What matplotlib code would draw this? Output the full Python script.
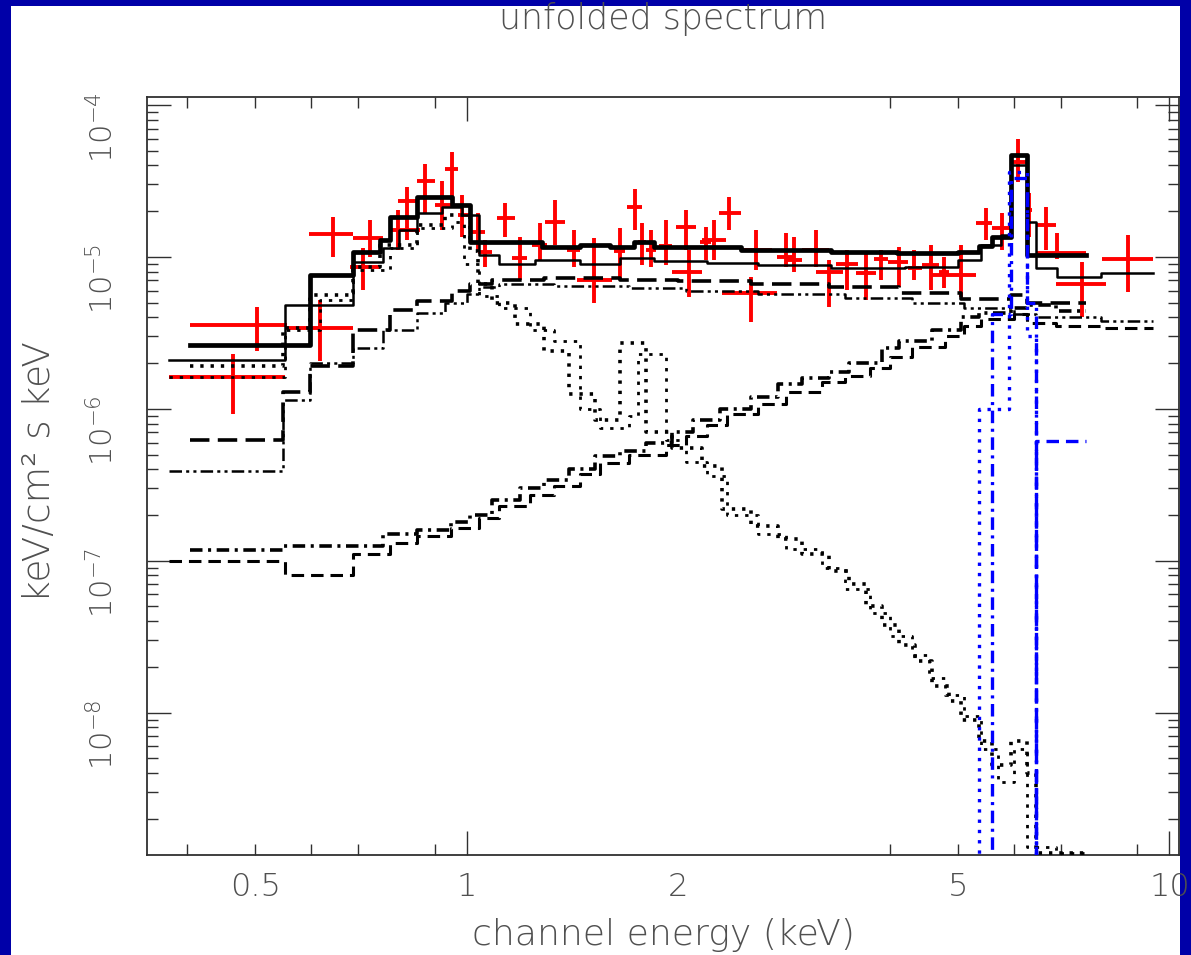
import numpy as np
import matplotlib
matplotlib.use("Agg")
import matplotlib.pyplot as plt
from matplotlib.patches import Rectangle
from matplotlib.ticker import FixedLocator, FixedFormatter, NullFormatter, LogLocator, FuncFormatter

plt.rcParams['lines.scale_dashes'] = False
plt.rcParams['font.family'] = ['DejaVu Sans']
plt.rcParams['font.weight'] = 'ultralight'
plt.rcParams['mathtext.fontset'] = 'dejavusans'

U = 1e-6  # all fluxes below in units of 1e-6 keV/cm^2 s keV

# ---- data (red crosses): energy bin in keV, flux with error range ----
r_e = [0.465, 0.503, 0.618, 0.645, 0.728, 0.712, 0.798, 0.822, 0.872, 0.922, 0.952, 0.984, 1.037, 1.061,
       1.132, 1.189, 1.27, 1.334, 1.42, 1.519, 1.65, 1.733, 1.778, 1.828, 1.923, 2.053, 2.073, 2.193,
       2.251, 2.364, 2.54, 2.582, 2.848, 2.924, 3.143, 3.279, 3.477, 3.70, 3.886, 4.12, 4.328, 4.576,
       4.775, 5.048, 5.48, 5.774, 6.083, 6.31, 6.666, 6.91, 7.499, 8.745]
r_elo = [0.377, 0.404, 0.555, 0.596, 0.689, 0.682, 0.777, 0.798, 0.849, 0.901, 0.931, 0.971, 1.010, 1.037,
         1.103, 1.16, 1.24, 1.291, 1.39, 1.433, 1.62, 1.688, 1.75, 1.80, 1.88, 1.988, 1.962, 2.15,
         2.164, 2.287, 2.311, 2.458, 2.76, 2.85, 3.0, 3.14, 3.35, 3.58, 3.80, 3.98, 4.25, 4.45,
         4.70, 4.59, 5.30, 5.59, 5.95, 6.265, 6.452, 6.45, 6.888, 8.007]
r_ehi = [0.551, 0.555, 0.689, 0.689, 0.760, 0.752, 0.858, 0.849, 0.901, 0.952, 0.971, 1.010, 1.061, 1.085,
         1.170, 1.22, 1.30, 1.378, 1.45, 1.607, 1.68, 1.778, 1.80, 1.86, 1.96, 2.122, 2.164, 2.23,
         2.341, 2.458, 2.765, 2.721, 2.93, 3.0, 3.28, 3.43, 3.60, 3.82, 3.98, 4.25, 4.45, 4.70,
         4.85, 5.302, 5.59, 5.95, 6.265, 6.368, 6.888, 7.62, 8.112, 9.491]
r_f = [1.61, 3.55, 3.39, 14.2, 13.4, 8.59, 15.1, 23.2, 31.4, 22.1, 37.7, 19.0, 14.6, 10.8,
       18.1, 9.85, 12.0, 17.0, 11.1, 7.05, 11.0, 21.4, 12.5, 11.1, 11.8, 15.8, 7.96, 12.5,
       13.0, 19.5, 5.77, 11.1, 10.0, 9.5, 11.1, 7.96, 9.0, 7.84, 9.7, 9.27, 8.5, 8.8,
       8.0, 7.6, 16.8, 15.6, 41.9, 20.5, 16.3, 10.6, 6.63, 9.7]
r_flo = [0.93, 2.42, 2.08, 10.0, 10.0, 6.04, 11.1, 13.0, 19.5, 15.1, 24.6, 13.6, 11.1, 8.59,
         13.6, 7.05, 9.55, 12.0, 8.59, 4.96, 7.26, 15.1, 8.9, 8.59, 8.9, 11.1, 5.44, 9.55,
         9.55, 15.1, 3.71, 8.2, 8.59, 8.0, 8.59, 4.67, 6.04, 5.19, 7.05, 6.33, 7.05, 6.04,
         6.2, 5.44, 13.0, 11.1, 30.9, 13.6, 11.1, 9.7, 4.0, 5.9]
r_fhi = [2.31, 4.67, 5.19, 18.4, 17.6, 11.5, 20.5, 29.0, 40.7, 31.4, 48.9, 25.7, 19.5, 13.0,
         22.8, 13.6, 16.8, 23.8, 15.1, 13.4, 15.6, 27.8, 16.8, 15.1, 17.6, 20.5, 11.1, 15.8,
         17.6, 24.9, 7.37, 15.1, 14.4, 13.6, 15.1, 9.55, 11.1, 10.6, 11.1, 11.6, 11.1, 12.0,
         10.0, 12.0, 21.1, 19.5, 59.6, 26.5, 21.4, 14.4, 9.27, 14.0]

# ---- model totals (solid) ----
tot_a_edges = [0.404, 0.598, 0.689, 0.752, 0.777, 0.849, 0.952, 1.010, 1.28, 1.45, 1.60, 1.73, 1.85, 2.46,
               3.30, 4.10, 5.00, 5.35, 5.59, 5.95, 6.27, 7.62]
tot_a = [2.65, 7.6, 10.8, 13.0, 18.4, 24.9, 22.1, 12.5, 11.6, 12.0, 11.6, 12.5, 11.6, 11.1,
         10.8, 10.6, 10.8, 11.8, 13.6, 47.0, 10.3]
tot_b_edges = [0.377, 0.551, 0.689, 0.760, 0.800, 0.849, 0.922, 0.984, 1.040, 1.110, 1.250, 1.450, 1.650,
               1.850, 2.200, 2.600, 3.300, 4.200, 5.000, 5.400, 5.750, 5.950, 6.270, 6.450, 6.910, 8.000, 9.490]
tot_b = [2.1, 4.8, 9.3, 11.5, 15.1, 19.5, 21.4, 19.0, 10.3, 9.0, 9.55, 9.0, 9.85,
         9.4, 9.1, 8.8, 8.4, 8.6, 9.55, 12.0, 14.0, 40.0, 17.0, 8.45, 7.4, 7.8]

# ---- soft thermal component (dotted) ----
th_a_edges = [0.404, 0.548, 0.598, 0.689, 0.752, 0.849, 0.931, 1.010, 1.037, 1.085, 1.170, 1.290, 1.400,
              1.520, 1.650, 1.800, 1.960, 2.160, 2.310, 2.540, 2.770, 3.000, 3.280, 3.500, 3.700, 3.900,
              4.120, 4.350, 4.600, 4.850, 5.050, 5.350, 5.600, 5.950, 6.270, 6.450, 7.620]
th_a = [1.90, 3.4, 5.6, 8.6, 12.0, 16.3, 19.0, 11.0, 6.6, 5.0, 3.6, 2.4, 1.25, 0.85, 2.7, 0.70, 0.55,
        0.42, 0.22, 0.17, 0.14, 0.11, 0.085, 0.07, 0.05, 0.038, 0.028, 0.022, 0.015, 0.012, 0.009,
        0.0065, 0.0045, 0.0065, 0.004, 0.0012]
th_b_edges = [0.377, 0.551, 0.618, 0.689, 0.777, 0.849, 0.952, 0.990, 1.040, 1.110, 1.230, 1.330, 1.450,
              1.550, 1.700, 1.750, 1.920, 2.050, 2.200, 2.350, 2.600, 2.850, 3.200, 3.450, 3.750, 4.000,
              4.300, 4.550, 4.800, 5.100, 5.400, 5.700, 6.000, 6.270, 6.900, 7.620, 9.490]
th_b = [1.61, 3.3, 5.2, 8.2, 11.5, 15.5, 17.0, 9.0, 5.5, 4.6, 3.3, 2.8, 1.0, 0.75, 0.9, 2.3, 0.62,
        0.45, 0.36, 0.20, 0.15, 0.12, 0.09, 0.065, 0.045, 0.032, 0.024, 0.017, 0.013, 0.0095,
        0.0058, 0.0035, 0.0058, 0.0013, 0.0012, 0.0005]

# ---- power law (rising) ----
pl_a_edges = [0.404, 0.548, 0.689, 0.760, 0.849, 0.950, 1.010, 1.085, 1.190, 1.290, 1.400, 1.520, 1.650,
              1.800, 1.960, 2.100, 2.290, 2.540, 2.770, 3.000, 3.280, 3.500, 3.900, 4.120, 4.600, 5.050,
              5.350, 5.950, 6.270, 6.900, 7.620]
pl_a = [0.117, 0.125, 0.125, 0.15, 0.16, 0.18, 0.20, 0.25, 0.30, 0.34, 0.40, 0.49, 0.53, 0.60, 0.70,
        0.85, 1.0, 1.2, 1.45, 1.6, 1.75, 2.0, 2.5, 2.8, 3.3, 4.0, 4.3, 4.6, 4.8, 4.4]
pl_b_edges = [0.377, 0.551, 0.689, 0.777, 0.850, 0.950, 1.040, 1.110, 1.230, 1.330, 1.450, 1.550, 1.700,
              1.920, 2.050, 2.200, 2.350, 2.600, 2.850, 3.200, 3.450, 3.750, 4.000, 4.300, 4.800, 5.100,
              5.400, 6.000, 6.270, 6.900, 8.000, 9.490]
pl_b = [0.10, 0.081, 0.11, 0.13, 0.145, 0.165, 0.19, 0.23, 0.27, 0.31, 0.37, 0.44, 0.50, 0.58, 0.66,
        0.78, 0.92, 1.08, 1.3, 1.5, 1.65, 1.85, 2.2, 2.55, 3.0, 3.5, 3.9, 4.2, 3.7, 3.5, 3.4]

# ---- hot component (dashed) ----
c3_a_edges = [0.404, 0.548, 0.598, 0.689, 0.777, 0.849, 0.952, 1.010, 1.085, 1.290, 1.650, 2.000, 2.540,
              3.280, 4.120, 5.050, 5.950, 6.270, 7.620]
c3_a = [0.62, 1.3, 1.9, 3.3, 4.5, 5.1, 6.0, 6.6, 7.1, 7.3, 7.0, 6.9, 6.6, 6.3, 5.8, 5.3, 5.6, 5.0]
c3_b_edges = [0.377, 0.548, 0.598, 0.689, 0.760, 0.849, 0.930, 1.000, 1.040, 1.110, 1.330, 1.700, 2.050,
              2.600, 3.450, 4.300, 5.100, 6.000, 6.450, 8.000, 9.490]
c3_b = [0.39, 1.15, 2.0, 2.5, 3.3, 4.3, 5.0, 5.7, 6.3, 6.6, 6.4, 6.2, 6.0, 5.7, 5.4, 5.0, 4.6, 4.2, 4.0, 3.8]

# ---- Fe line gaussians (blue) ----
fe_a_edges = [5.00, 5.35, 5.91, 6.27, 6.45, 7.00]
fe_a = [1e-4, 1.0, 36.0, 3.0, 1e-4]
fe_b_edges = [5.20, 5.59, 5.95, 6.27, 6.45, 7.00]
fe_b = [1e-4, 4.2, 33.0, 5.0, 1e-4]
fe_c_edges = [6.00, 6.45, 7.62]
fe_c = [1e-4, 0.61]

x_minor = [0.4, 0.5, 0.6, 0.7, 0.9, 2, 4, 5, 6, 7, 9]
x_minor_labels = ['', '0.5', '', '', '', '2', '', '5', '', '', '']


def steps(edges, vals):
    x = np.repeat(edges, 2)[1:-1]
    y = np.repeat(vals, 2) * U
    return x, y


W, H = 1191, 955
fig = plt.figure(figsize=(W / 100, H / 100), dpi=100)
fig.patch.set_facecolor('#0000a8')
fig.add_artist(Rectangle((11 / W, 0), (1180 - 11) / W, 1 - 6 / H, transform=fig.transFigure,
                         facecolor='white', edgecolor='none', zorder=-5))

ax = fig.add_axes([147 / W, 100 / H, (1179 - 147) / W, (855 - 97) / H])
ax.set_facecolor('white')
ax.set_xscale('log')
ax.set_yscale('log')

# red data
e = np.array(r_e)
f = np.array(r_f) * U
ax.errorbar(e, f, xerr=[e - np.array(r_elo), np.array(r_ehi) - e],
            yerr=[f - np.array(r_flo) * U, np.array(r_fhi) * U - f],
            fmt='none', ecolor='#ff0000', elinewidth=2.8, capsize=0, zorder=2)

DOT = (0, (2.4, 5))
DASH = (0, (9, 5))
LDASH = (0, (14, 6))
DASHDOT = (0, (9, 4, 2.2, 4))
DASHDOT3 = (0, (9, 3, 2.2, 3, 2.2, 3))

k = 'black'
lines = [
    (tot_a_edges, tot_a, '-', 3.4, k),
    (tot_b_edges, tot_b, '-', 1.8, k),
    (th_a_edges, th_a, DOT, 2.6, k),
    (th_b_edges, th_b, DOT, 2.0, k),
    (pl_a_edges, pl_a, DASHDOT, 2.6, k),
    (pl_b_edges, pl_b, DASH, 2.2, k),
    (c3_a_edges, c3_a, LDASH, 2.6, k),
    (c3_b_edges, c3_b, DASHDOT3, 1.8, k),
]
for ed, v, ls, lw, c in lines:
    xs, ys = steps(ed, v)
    ax.plot(xs, ys, color=c, linestyle=ls, lw=lw, zorder=3)

blue = '#0000ff'
for ed, v, ls in [(fe_a_edges, fe_a, DOT), (fe_b_edges, fe_b, DASHDOT), (fe_c_edges, fe_c, DASH)]:
    xs, ys = steps(ed, v)
    ax.plot(xs, ys, color=blue, linestyle=ls, lw=2.4, zorder=4)

ax.set_xlim(0.3507, 10.32)
ax.set_ylim(1.156e-9, 1.129e-4)

tc = '#505050'
ax.xaxis.set_major_locator(FixedLocator([1, 10]))
ax.xaxis.set_major_formatter(FixedFormatter(['1', '10']))
ax.xaxis.set_minor_locator(FixedLocator(x_minor))
ax.xaxis.set_minor_formatter(FixedFormatter(x_minor_labels))
ax.yaxis.set_major_locator(LogLocator(base=10))
ax.yaxis.set_major_formatter(FuncFormatter(lambda v, p: r'$10^{%d}$' % int(round(np.log10(v)))))
ax.yaxis.set_minor_locator(LogLocator(base=10, subs=np.arange(2, 10)))
ax.yaxis.set_minor_formatter(NullFormatter())

ax.tick_params(which='both', direction='in', top=True, right=True, color='#303030', width=1.0,
               labelcolor=tc, labelsize=23)
ax.tick_params(which='major', length=17)
ax.tick_params(which='minor', length=8)
ax.tick_params(axis='x', which='both', pad=12)
ax.tick_params(axis='y', which='both', pad=20, labelrotation=90, labelsize=22)
for s in ax.spines.values():
    s.set_color('#303030')
    s.set_linewidth(1.3)

# no tick mark at 2 keV, only its label
for t, loc in zip(ax.xaxis.get_minor_ticks(len(x_minor)), x_minor):
    if loc == 2:
        t.tick1line.set_visible(False)
        t.tick2line.set_visible(False)

fig.text(663 / W, 1 - 29 / H, 'unfolded spectrum', ha='center', va='baseline', fontsize=25, color=tc)
fig.text(663 / W, 1 - 945 / H, 'channel energy (keV)', ha='center', va='baseline', fontsize=26, color=tc)
fig.text(40 / W, 1 - 472 / H, 'keV/cm\u00b2 s keV', ha='center', va='center', rotation=90, fontsize=27, color=tc)

fig.savefig('out.png', dpi=100, facecolor=fig.get_facecolor())
